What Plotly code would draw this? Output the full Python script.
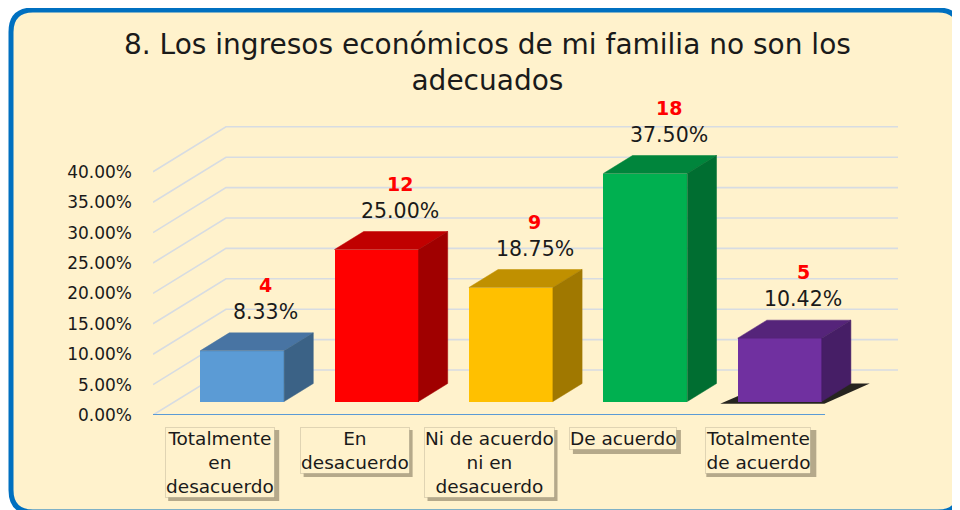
import plotly.graph_objects as go

# ---------------- data ----------------
categories = ["Totalmente<br>en<br>desacuerdo", "En<br>desacuerdo",
              "Ni de acuerdo<br>ni en<br>desacuerdo", "De acuerdo",
              "Totalmente<br>de acuerdo"]
counts = [4, 12, 9, 18, 5]
percents = [8.33, 25.00, 18.75, 37.50, 10.42]
percent_labels = ["8.33%", "25.00%", "18.75%", "37.50%", "10.42%"]
tick_values = [0, 5, 10, 15, 20, 25, 30, 35, 40]
tick_labels = ["0.00%", "5.00%", "10.00%", "15.00%", "20.00%",
               "25.00%", "30.00%", "35.00%", "40.00%"]
title_text = "8. Los ingresos económicos de mi familia no son los<br>adecuados"

# ---------------- styles ----------------
front_colors = ["#5B9BD5", "#FF0000", "#FFC000", "#00B050", "#7030A0"]
top_colors = ["#4874A3", "#C00000", "#C09000", "#00853C", "#55247A"]
side_colors = ["#3B6286", "#A00000", "#A07800", "#006E31", "#461E66"]
FONT = "DejaVu Sans"
BG = "#FFF2CC"
GRID = "#D7DCE2"

# oblique depth vector (data units) and bar depth placement
DX, DY = 0.543, 7.4
D0, D1 = 0.3, 0.7
W = 0.625

# figure geometry (page has an 8px body margin)
WID, HEI = 952, 502
L, R, T, B = 145, 62, 103, 95
PW, PH = WID - L - R, HEI - T - B


def px(x):
    return (x - L) / PW


def py(y):
    return (HEI - B - y) / PH


fig = go.Figure()

shapes = []
# rounded frame
x0, x1, y0, y1, r = 3, 952, 2, 504, 22
path = (f"M {px(x0+r)},{py(y0)} L {px(x1-r)},{py(y0)} Q {px(x1)},{py(y0)} {px(x1)},{py(y0+r)} "
        f"L {px(x1)},{py(y1-r)} Q {px(x1)},{py(y1)} {px(x1-r)},{py(y1)} "
        f"L {px(x0+r)},{py(y1)} Q {px(x0)},{py(y1)} {px(x0)},{py(y1-r)} "
        f"L {px(x0)},{py(y0+r)} Q {px(x0)},{py(y0)} {px(x0+r)},{py(y0)} Z")
shapes.append(dict(type="path", xref="paper", yref="paper", path=path,
                   line=dict(color="#0070C0", width=5), fillcolor=BG, layer="below"))

n = len(categories)
xl, xr = -0.5, n - 0.5
xmax = xr + DX
# gridlines on side wall + back wall
for v in tick_values:
    p = f"M {xl},{v} L {xl+DX},{v+DY} L {xmax},{v+DY}"
    shapes.append(dict(type="path", xref="x", yref="y", path=p,
                       line=dict(color=GRID, width=1.6), layer="below"))
# floor front edge
shapes.append(dict(type="line", xref="x", yref="y", x0=xl, x1=xr, y0=0, y1=0,
                   line=dict(color="#5B9BD5", width=2), layer="below"))

base = D0 * DY
bdx, bdy = (D1 - D0) * DX, (D1 - D0) * DY
centers = [i + D0 * DX for i in range(n)]

# shadow under last bar
i = n - 1
c = centers[i]
sp = (f"M {c - W/2 - 0.13},{base - 0.35} L {c + W/2 + 0.02},{base - 0.35} "
      f"L {c + W/2 + bdx + 0.14},{base + bdy} L {c - W/2 + bdx},{base + bdy} Z")
shapes.append(dict(type="path", xref="x", yref="y", path=sp,
                   fillcolor="rgba(0,0,0,0.85)", line=dict(width=0), layer="below"))

# shadows of the category label boxes (pixel sized, anchored at category, paper refs -> not clipped)
box_w = [110, 108, 129, 107, 109]
box_h = [70, 46, 70, 23, 46]
for i in range(n):
    ax = (i - xl) / (xmax - xl)
    shapes.append(dict(type="rect", xref="paper", yref="paper", xsizemode="pixel", ysizemode="pixel",
                       xanchor=ax, yanchor=0,
                       x0=-box_w[i] / 2 + 3, x1=box_w[i] / 2 + 4,
                       y0=-12 - box_h[i] - 4, y1=-12 - 3,
                       fillcolor="rgba(70,60,40,0.40)", line=dict(width=0), layer="below"))

# front faces
fig.add_trace(go.Bar(x=centers, y=percents, base=[base] * n, width=W,
                     marker=dict(color=front_colors, line=dict(width=0)),
                     hoverinfo="skip", showlegend=False))

# top and side faces
for i in range(n):
    c = centers[i]
    h = base + percents[i]
    xa, xb = c - W / 2, c + W / 2
    fig.add_trace(go.Scatter(
        x=[xa, xb, xb + bdx, xa + bdx, xa], y=[h, h, h + bdy, h + bdy, h],
        fill="toself", fillcolor=top_colors[i], mode="lines",
        line=dict(width=0.5, color=top_colors[i]), hoverinfo="skip", showlegend=False))
    fig.add_trace(go.Scatter(
        x=[xb, xb + bdx, xb + bdx, xb, xb], y=[base, base + bdy, h + bdy, h, base],
        fill="toself", fillcolor=side_colors[i], mode="lines",
        line=dict(width=0.5, color=side_colors[i]), hoverinfo="skip", showlegend=False))

annotations = []
# title
annotations.append(dict(x=px(479), y=py(54.5), xref="paper", yref="paper",
                        xanchor="center", yanchor="middle", showarrow=False,
                        text=title_text, align="center",
                        font=dict(family=FONT, size=28, color="#1a1a1a")))
for i in range(n):
    c = centers[i]
    ytop = base + percents[i] + bdy
    annotations.append(dict(x=c + bdx / 2, y=ytop, xref="x", yref="y", xshift=9, yshift=21,
                            text=percent_labels[i], showarrow=False, yanchor="middle",
                            font=dict(family=FONT, size=20.5, color="#1a1a1a")))
    annotations.append(dict(x=c + bdx / 2, y=ytop, xref="x", yref="y", xshift=9, yshift=48,
                            text=f"<b>{counts[i]}</b>", showarrow=False, yanchor="middle",
                            font=dict(family=FONT, size=19, color="#FF0000")))
# category label boxes
for i in range(n):
    annotations.append(dict(x=i, y=0, xref="x", yref="y", yanchor="top", yshift=-12,
                            text=categories[i], showarrow=False, align="center",
                            font=dict(family=FONT, size=18.5, color="#1a1a1a"),
                            bgcolor=BG, bordercolor="rgba(0,0,0,0.12)", borderwidth=1,
                            borderpad=0))

fig.update_layout(
    width=WID, height=HEI, autosize=False,
    margin=dict(l=L, r=R, t=T, b=B),
    paper_bgcolor="white", plot_bgcolor="rgba(0,0,0,0)",
    xaxis=dict(range=[xl, xmax], visible=False, fixedrange=True),
    yaxis=dict(range=[0, 50], tickvals=tick_values, ticktext=tick_labels,
               showgrid=False, zeroline=False, showline=False, ticks="",
               ticklabelstandoff=20,
               tickfont=dict(family=FONT, size=17, color="#1a1a1a"), fixedrange=True),
    shapes=shapes, annotations=annotations, bargap=0,
)

fig.write_html("out.html")
